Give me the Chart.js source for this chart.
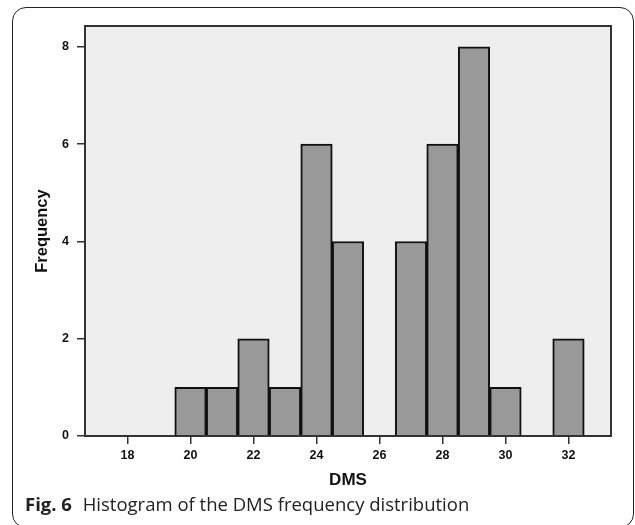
<!DOCTYPE html>
<html>
<head>
<meta charset="utf-8">
<script src="https://cdn.jsdelivr.net/npm/chart.js@4.4.1/dist/chart.umd.min.js"></script>
<style>
  body { margin: 0; background: #fff; }
  #wrap { position: relative; width: 635px; height: 525px; overflow: hidden; }
  #frame { position: absolute; left: 12px; top: 7px; right: 1px; bottom: -3px; border: 1.5px solid #222; border-radius: 14px; }
  #myChart { position: absolute; left: 0; top: 0; }
  #caption { position: absolute; left: 25px; top: 491px; font-family: "Open Sans", sans-serif; font-size: 18.5px; color: #222; white-space: nowrap; }
  #caption b { font-weight: 700; margin-right: 6px; }
</style>
</head>
<body>
<div id="wrap">
  <div id="frame"></div>
  <canvas id="myChart" width="635" height="525"></canvas>
  <div id="caption"><b>Fig. 6</b> Histogram of the DMS frequency distribution</div>
</div>
<script>
// DMS bins (bin centres) and how many cases fall in each
const dmsBins = [20, 21, 22, 23, 24, 25, 26, 27, 28, 29, 30, 31, 32];
const frequency = [1, 1, 2, 1, 6, 4, 0, 4, 6, 8, 1, 0, 2];

const xTicks = [18, 20, 22, 24, 26, 28, 30, 32];
const yTicks = [0, 2, 4, 6, 8];

const histData = dmsBins.map((b, i) => ({ x: b, y: frequency[i] }));

const plotBox = {
    id: 'plotBox',
    beforeDraw(chart) {
        const { ctx, chartArea: a } = chart;
        ctx.save();
        ctx.fillStyle = '#eeeeee';
        ctx.fillRect(a.left, a.top, a.right - a.left, a.bottom - a.top);
        ctx.restore();
    },
    afterDraw(chart) {
        const { ctx, chartArea: a } = chart;
        ctx.save();
        ctx.strokeStyle = '#333';
        ctx.lineWidth = 2;
        ctx.strokeRect(a.left, a.top, a.right - a.left, a.bottom - a.top);
        ctx.restore();
    }
};

const tickFont = { family: 'Liberation Sans, Arial, sans-serif', size: 12.5, weight: 'bold' };

const graph = document.getElementById('myChart').getContext('2d');
let myChart = new Chart(graph, {
    type: 'bar',
    data: {
        datasets: [{
            label: 'Frequency',
            data: histData,
            backgroundColor: '#999999',
            borderColor: '#111111',
            borderWidth: 2,
            borderSkipped: 'start',
            barPercentage: 1,
            categoryPercentage: 1
        }]
    },
    options: {
        responsive: false,
        animation: false,
        layout: { padding: { top: 26, right: 24, left: 0, bottom: 0 } },
        plugins: { legend: { display: false }, tooltip: { enabled: false } },
        scales: {
            x: {
                type: 'linear',
                offset: false,
                min: 16.65,
                max: 33.35,
                afterFit: s => { s.height = 89; },
                afterBuildTicks: s => { s.ticks = xTicks.map(v => ({ value: v })); },
                grid: { offset: false, drawOnChartArea: false, drawTicks: true, tickLength: 8, color: '#333', lineWidth: 1.5 },
                border: { display: true, color: '#333', width: 2 },
                ticks: { font: tickFont, color: '#111', padding: 4, maxRotation: 0 },
                title: {
                    display: true, text: 'DMS', color: '#111',
                    font: { family: 'Liberation Sans, Arial, sans-serif', size: 17, weight: 'bold' },
                    padding: { bottom: 34 }
                }
            },
            y: {
                min: 0,
                max: 8.43,
                afterFit: s => { s.width = 85; },
                afterBuildTicks: s => { s.ticks = yTicks.map(v => ({ value: v })); },
                grid: { drawOnChartArea: false, drawTicks: true, tickLength: 8, color: '#333', lineWidth: 1.5 },
                border: { display: true, color: '#333', width: 2 },
                ticks: { font: tickFont, color: '#111', padding: 8 },
                title: {
                    display: true, text: 'Frequency', color: '#111',
                    font: { family: 'Liberation Sans, Arial, sans-serif', size: 16.5, weight: 'bold' },
                    padding: { top: 33 }
                }
            }
        }
    },
    plugins: [plotBox]
});
</script>
</body>
</html>
